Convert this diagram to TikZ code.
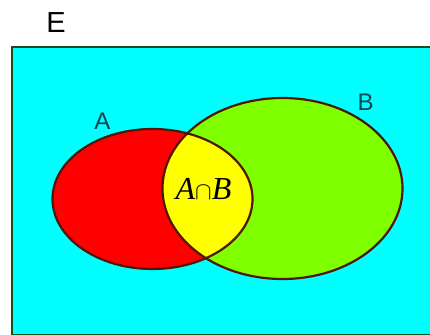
\documentclass[tikz,border=0pt]{standalone}
\usepackage{fontspec}
\setmainfont{Liberation Sans}
\newfontfamily\timesfont{Liberation Serif}
\usepackage{tikz}
\usetikzlibrary{positioning}
\definecolor{univ}{HTML}{00FFFF}
\definecolor{setA}{HTML}{FF0000}
\definecolor{setB}{HTML}{80FF00}
\definecolor{both}{HTML}{FFFF00}
\definecolor{rim}{HTML}{501608}
\definecolor{frame}{HTML}{1E4A22}
\definecolor{labc}{HTML}{0E4650}
\tikzset{
  setlab/.style={font=\fontsize{24}{24}\selectfont,text=labc,inner sep=0pt},
  rimline/.style={draw=rim,line width=2.2pt},
}
\begin{document}
\begin{tikzpicture}[x=1pt,y=-1pt]
\useasboundingbox (0,0) rectangle (430,334);
\fill[white] (0,0) rectangle (430,334);
\clip (0,0) rectangle (430,334);
% universe
\draw[fill=univ,draw=frame,line width=2.8pt] (12,47) rectangle (446,335);
% the two sets
\fill[setA] (152.5,199) ellipse [x radius=100,y radius=70];
\fill[setB] (282.5,188.5) ellipse [x radius=120,y radius=90.5];
\begin{scope}
  \clip (152.5,199) ellipse [x radius=100,y radius=70];
  \fill[both] (282.5,188.5) ellipse [x radius=120,y radius=90.5];
\end{scope}
\draw[rimline] (152.5,199) ellipse [x radius=100,y radius=70];
\draw[rimline] (282.5,188.5) ellipse [x radius=120,y radius=90.5];
% labels
\node[inner sep=0pt,font=\fontsize{29}{29}\selectfont] (e) at (56,23) {E};
\node[setlab] (a) at (102.5,121) {A};
\node[setlab] (b) at (365.5,102.5) {B};
\node[inner sep=0pt,font=\fontsize{32}{32}\selectfont] (ab) at (203.5,189) {{\timesfont\itshape A}$\cap${\timesfont\itshape B}};
\end{tikzpicture}
\end{document}
